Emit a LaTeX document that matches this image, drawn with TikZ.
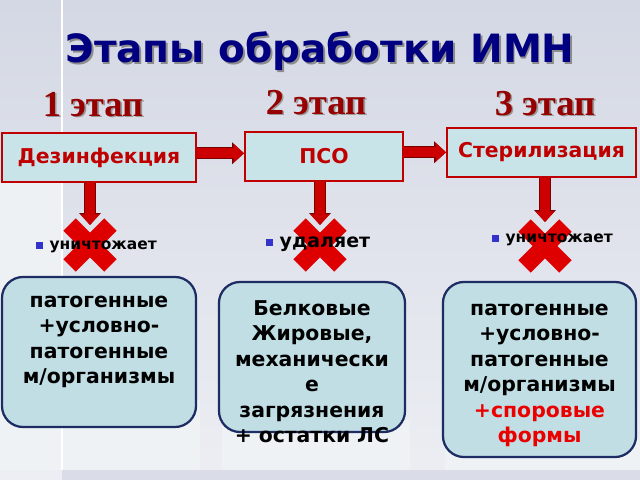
\documentclass[tikz,border=0pt]{standalone}
\usepackage{fontspec}
\setmainfont{DejaVu Sans}
\newfontfamily\stagefont{Liberation Serif}
\usepackage{xcolor}
\usepackage{tikz}
\usetikzlibrary{
  arrows.meta,
  positioning,
  shapes.misc
}
\definecolor{BgTop}{RGB}{212, 216, 228}
\definecolor{BgBottom}{RGB}{236, 238, 243}
\definecolor{PanelWhite}{RGB}{238, 242, 245}
\definecolor{StripGray}{RGB}{218, 221, 231}
\definecolor{TitleBlue}{RGB}{0, 0, 128}
\definecolor{StageRed}{RGB}{150, 0, 0}
\definecolor{BoxRed}{RGB}{192, 0, 0}
\definecolor{StepFill}{RGB}{200, 228, 232}
\definecolor{InfoFill}{RGB}{192, 222, 228}
\definecolor{InfoBorder}{RGB}{30, 44, 100}
\definecolor{ArrowRed}{RGB}{204, 0, 0}
\definecolor{ArrowDark}{RGB}{120, 0, 0}
\definecolor{CrossRed}{RGB}{222, 0, 0}
\definecolor{BulletBlue}{RGB}{51, 51, 204}
\definecolor{SporeRed}{RGB}{235, 0, 0}
\newcommand\shadowed[2]{\rlap{\kern1.2pt\raisebox{-1.2pt}{\textcolor{#1}{#2}}}#2}
\newcommand\bul{\textcolor{BulletBlue}{\rule[0.6pt]{5pt}{5pt}}\hspace{4.5pt}}

\begin{document}
\begin{tikzpicture}[x=0.025cm, y=-0.025cm,
    stepbox/.style={rectangle, draw=BoxRed, line width=1.3pt, fill=StepFill,
      minimum height=34.9pt, inner sep=0pt, text=BoxRed,
      font=\fontsize{14.5}{17}\selectfont\bfseries},
    infobox/.style={rectangle, rounded corners=15pt, draw=InfoBorder,
      line width=1.6pt, fill=InfoFill, inner sep=0pt},
    infotext/.style={anchor=base, align=center, text width=132pt, inner sep=0pt,
      font=\fontsize{14.5}{18.2}\selectfont\bfseries},
    stagelabel/.style={text=StageRed, font=\stagefont\fontsize{26}{30}\selectfont\bfseries},
    killtext/.style={anchor=west, inner sep=0pt, font=\fontsize{11}{13}\selectfont\bfseries},
    crossx/.style={cross out, draw=CrossRed, line width=12.5pt, minimum size=29pt,
      inner sep=0pt, outer sep=0pt},
    blockarrow/.style={draw=ArrowRed, line width=7pt,
      -{Triangle[length=7.5pt, width=13pt]},
      preaction={draw=ArrowDark, line width=8.6pt, -{Triangle[length=8.5pt, width=15pt]}}}
  ]
  % background
  \fill[top color=BgTop, bottom color=BgBottom] (0,0) rectangle (640,480);
  \useasboundingbox (0,0) rectangle (640,480);
  \fill[PanelWhite!70!BgBottom] (0,182) rectangle (62,470);
  \fill[PanelWhite] (0,400) rectangle (200,470);
  \fill[PanelWhite] (222,420) rectangle (410,470);
  \fill[PanelWhite] (445,440) rectangle (640,470);
  \fill[StripGray] (62,470) rectangle (640,480);
  \draw[white, line width=1pt] (62,0) -- (62,470);

  % title and stages
  \node[text=TitleBlue, font=\fontsize{27.7}{33}\selectfont\bfseries] (title) at (320,52)
    {\shadowed{black!45}{Этапы обработки ИМН}};
  \node[stagelabel] (stage1) at (93,105) {\shadowed{black!40}{1 этап}};
  \node[stagelabel] (stage2) at (316,103) {\shadowed{black!40}{2 этап}};
  \node[stagelabel] (stage3) at (545,104) {\shadowed{black!40}{3 этап}};

  % steps
  \node[stepbox, minimum width=138pt] (dez) at (99,157.5) {Дезинфекция};
  \node[stepbox, minimum width=112.4pt] (pso) at (324,156.5) {ПСО};
  \node[stepbox, minimum width=134.4pt] (ster) at (541.5,152.5) {Стерилизация};

  \draw[blockarrow] ([yshift=3pt]dez.east) -- ([yshift=3pt]dez.east -| pso.west);
  \draw[blockarrow] ([yshift=3pt]pso.east) -- ([yshift=3pt]pso.east -| ster.west);

  % crosses
  \node[crossx] (cross1) at (90,245) {};
  \node[crossx] (cross2) at (320,245) {};
  \node[crossx] (cross3) at (545,246) {};

  \coordinate (tip1) at (90,225);
  \coordinate (tip2) at (320,225);
  \coordinate (tip3) at (545,222);
  \draw[blockarrow] (dez.south -| tip1) -- (tip1);
  \draw[blockarrow] (pso.south -| tip2) -- (tip2);
  \draw[blockarrow] (ster.south -| tip3) -- (tip3);

  \node[killtext] (kill1) at (36,247) {\bul уничтожает};
  \node[killtext, font=\fontsize{13.5}{15}\selectfont\bfseries] (kill2) at (266,244) {\bul удаляет};
  \node[killtext] (kill3) at (492,240) {\bul уничтожает};

  % results
  \node[infobox, minimum width=138pt, minimum height=106.7pt] (res1) at (99,352) {};
  \node[infobox, minimum width=132.3pt, minimum height=106.7pt] (res2) at (312,357) {};
  \node[infobox, minimum width=137.3pt, minimum height=124.5pt] (res3) at (539.5,369.5) {};

  \node[infotext] (txt1) at (99,307) {патогенные\\+условно-\\патогенные\\м/организмы};
  \node[infotext] (txt2) at (312,315) {Белковые\\Жировые,\\механически\\е\\загрязнения\\+ остатки ЛС};
  \node[infotext] (txt3) at (539.5,315) {патогенные\\+условно-\\патогенные\\м/организмы\\
    \textcolor{SporeRed}{+споровые}\\\textcolor{SporeRed}{формы}};
\end{tikzpicture}
\end{document}
